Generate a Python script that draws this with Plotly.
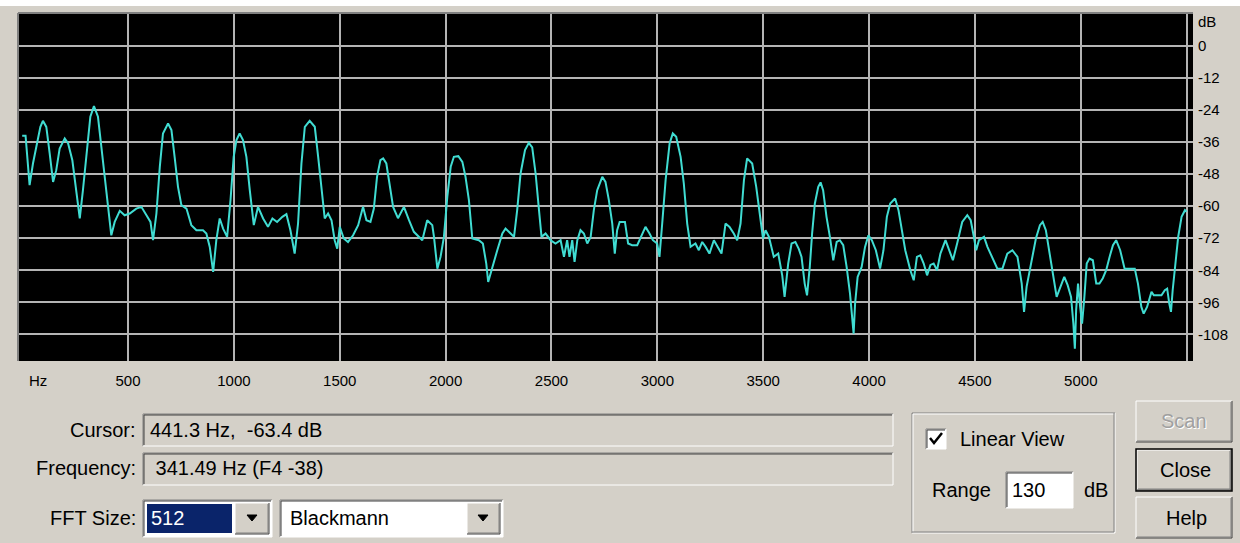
import plotly.graph_objects as go

# ---------------- data ----------------
freq_hz = [
    0, 16, 35, 51, 70, 86, 98, 114, 130, 146, 161, 177, 201, 217, 237, 253, 272, 287, 306, 322,
    339, 358, 374, 390, 405, 421, 437, 461, 484, 508, 539, 563, 587, 606, 618, 634, 650, 665, 689, 705,
    720, 736, 752, 776, 799, 823, 854, 870, 886, 902, 917, 933, 949, 968, 984, 999, 1012, 1027, 1043, 1059,
    1075, 1094, 1114, 1138, 1161, 1182, 1204, 1229, 1248, 1267, 1287, 1303, 1319, 1335, 1358, 1382, 1398, 1414, 1429, 1445,
    1461, 1476, 1488, 1500, 1519, 1539, 1563, 1587, 1610, 1626, 1645, 1661, 1676, 1692, 1705, 1720, 1736, 1752, 1775, 1803,
    1827, 1850, 1890, 1913, 1937, 1945, 1961, 1976, 1992, 2008, 2024, 2039, 2060, 2079, 2094, 2110, 2126, 2157, 2176, 2192,
    2201, 2220, 2244, 2268, 2283, 2307, 2323, 2338, 2354, 2375, 2393, 2409, 2425, 2441, 2453, 2472, 2496, 2519, 2543, 2559,
    2574, 2585, 2598, 2609, 2622, 2637, 2653, 2669, 2685, 2700, 2716, 2740, 2755, 2771, 2787, 2799, 2810, 2822, 2847, 2862,
    2881, 2905, 2921, 2944, 2963, 2979, 2999, 3010, 3023, 3039, 3058, 3073, 3089, 3110, 3125, 3141, 3157, 3180, 3196, 3212,
    3228, 3246, 3267, 3287, 3303, 3322, 3341, 3361, 3377, 3393, 3409, 3424, 3448, 3467, 3487, 3499, 3511, 3527, 3550, 3571,
    3590, 3601, 3618, 3634, 3652, 3668, 3681, 3696, 3707, 3720, 3731, 3744, 3760, 3771, 3783, 3799, 3815, 3831, 3847, 3862,
    3878, 3894, 3910, 3921, 3927, 3934, 3946, 3965, 3981, 3997, 4013, 4032, 4052, 4068, 4084, 4100, 4123, 4139, 4155, 4171,
    4195, 4211, 4226, 4242, 4258, 4274, 4290, 4305, 4321, 4337, 4361, 4380, 4396, 4416, 4440, 4464, 4480, 4495, 4506, 4519,
    4543, 4559, 4582, 4606, 4630, 4653, 4677, 4701, 4721, 4732, 4744, 4764, 4788, 4807, 4820, 4835, 4851, 4867, 4886, 4907,
    4922, 4938, 4954, 4965, 4972, 4978, 4987, 4997, 5006, 5017, 5028, 5041, 5057, 5073, 5088, 5104, 5120, 5136, 5152, 5167,
    5186, 5207, 5231, 5255, 5270, 5286, 5297, 5313, 5334, 5345, 5365, 5381, 5397, 5408, 5418, 5426, 5434, 5444, 5460, 5476,
    5492, 5500,
]
level_db = [
    -33.6, -33.6, -52.1, -44, -36.5, -30.3, -28, -30.3, -40.3, -50.9, -46.5, -38.4, -34.6, -36.5, -42.8, -52.8, -64.6, -54, -39, -26.5,
    -22.5, -26.5, -37.75, -49.6, -61.5, -70.9, -65.9, -61.75, -63.4, -62.75, -60.9, -60.25, -63.4, -65.9, -72.75, -62.75, -45.25, -32.75, -29, -31.5,
    -41.5, -52.75, -59.6, -60.9, -67.1, -69, -69, -70.25, -75.25, -84.6, -72.75, -64.6, -68.4, -71.5, -57.75, -41.5, -35.25, -32.75, -35.25, -41.5,
    -54, -67.1, -60.25, -64.6, -67.75, -64.6, -65.9, -64, -63, -69, -77.75, -66.5, -44, -30.25, -28, -30.25, -41.5, -54, -64.6, -62.75,
    -65.25, -72.75, -75.9, -67.75, -72.1, -73.4, -70.9, -67.1, -60.25, -65.25, -65.9, -60.9, -49, -42.75, -42.1, -44, -52.75, -60.25, -64.5, -60.25,
    -65.25, -69.6, -72.75, -65.25, -67.1, -71.5, -83.4, -79, -71.5, -56.5, -45.25, -41.5, -41.25, -43.4, -49, -57.75, -72.1, -72.75, -74, -81.5,
    -88.4, -82.75, -76.5, -70.25, -68.4, -70.25, -71.5, -61.5, -47.75, -39, -36.25, -38, -47.75, -61.5, -71.5, -70.25, -72.75, -74, -72.75, -79,
    -72.75, -79, -72.75, -80.9, -72.75, -69, -70.25, -74, -71.5, -61.5, -54, -49, -50.9, -57.75, -66.5, -77.75, -69, -65.9, -65.9, -74,
    -74.6, -74.6, -71.5, -67.75, -70.25, -72.75, -74, -79, -66.5, -50.25, -36.5, -32.75, -34, -41.5, -51.5, -66.5, -75.25, -74, -76.5, -73.4,
    -75.25, -77.75, -72.75, -75.25, -77.75, -66.5, -67.75, -70.25, -72.75, -66.5, -50.25, -42.1, -44, -52.75, -64, -72.1, -69, -71.5, -79, -77.75,
    -86, -94, -81.5, -74, -73.4, -76, -79, -89, -93.4, -82.75, -70.25, -59, -52.75, -51.1, -54, -64, -71.5, -80.25, -73.4, -72.75,
    -74.6, -82.75, -92.75, -102.75, -107.75, -96.5, -86.5, -82.75, -75.25, -70.9, -72.75, -76.5, -83.4, -76.5, -64, -59, -57.1, -61.5, -69, -76.5,
    -84, -87.75, -79, -78.4, -81.5, -85.9, -82, -81.5, -84, -77.75, -72.75, -76.5, -80.25, -74, -65.9, -63.4, -65.25, -71.5, -76.5, -72.75,
    -71.5, -75.25, -79, -83.4, -83.4, -77.75, -76.5, -79, -89, -99.6, -90.25, -81.5, -72.1, -67.1, -65.9, -69, -76.5, -84, -94, -89.6,
    -86.5, -89.6, -94, -104, -113.4, -99, -89, -97.75, -104, -94, -81.5, -79.6, -80.25, -89, -89, -87, -84, -79, -74.6, -72.75,
    -76.5, -83.4, -83.4, -83.4, -89, -97.75, -100.25, -97.75, -92.1, -93.4, -93.4, -93.4, -91.5, -90.9, -96.5, -99.6, -91.5, -84, -71.5, -64,
    -61.5, -62.1,
]

x_tick_vals = [500, 1000, 1500, 2000, 2500, 3000, 3500, 4000, 4500, 5000, 5500]
x_tick_text = ["500", "1000", "1500", "2000", "2500", "3000", "3500", "4000", "4500", "5000", ""]
y_tick_vals = [0, -12, -24, -36, -48, -60, -72, -84, -96, -108]
y_tick_text = ["0", "-12", "-24", "-36", "-48", "-60", "-72", "-84", "-96", "-108"]

# ---------------- geometry ----------------
W, H = 1240, 543
ML, MR, MT, MB = 19, 47, 14, 182
PW = W - ML - MR
PH = H - MT - MB


def X(px):
    return (px - ML) / PW


def Y(py):
    return 1 - (py - MT) / PH


BG = "#d4d0c8"
DARK = "#808080"
DARKER = "#404040"
UIFONT = "Liberation Sans, Arial, sans-serif"

shapes = []
annots = []


def line(x0, y0, x1, y1, color, w=1):
    shapes.append(dict(type="line", xref="paper", yref="paper",
                       x0=X(x0), y0=Y(y0), x1=X(x1), y1=Y(y1),
                       line=dict(color=color, width=w), layer="above"))


def rect(x0, y0, x1, y1, fill, lc=None, w=1):
    shapes.append(dict(type="rect", xref="paper", yref="paper",
                       x0=X(x0), y0=Y(y0), x1=X(x1), y1=Y(y1),
                       fillcolor=fill,
                       line=dict(color=lc if lc else fill, width=w if lc else 0),
                       layer="above"))


def sunken(x0, y0, x1, y1, fill):
    rect(x0, y0, x1, y1, fill)
    line(x0, y0, x1, y0, DARK)
    line(x0, y0, x0, y1, DARK)
    line(x0 + 1, y0 + 1, x1 - 1, y0 + 1, DARKER)
    line(x0 + 1, y0 + 1, x0 + 1, y1 - 1, DARKER)
    line(x0, y1, x1, y1, "#ffffff")
    line(x1, y0, x1, y1, "#ffffff")


def raised(x0, y0, x1, y1, default=False):
    rect(x0, y0, x1, y1, BG)
    line(x0, y0, x1, y0, "#ffffff")
    line(x0, y0, x0, y1, "#ffffff")
    line(x0, y1, x1, y1, DARKER)
    line(x1, y0, x1, y1, DARKER)
    line(x0 + 1, y1 - 1, x1 - 1, y1 - 1, DARK)
    line(x1 - 1, y0 + 1, x1 - 1, y1 - 1, DARK)
    if default:
        rect(x0 - 1, y0 - 1, x1 + 1, y1 + 1, "rgba(0,0,0,0)", "#000000", 1.5)


def text(px, py, s, anchor="left", size=20, color="#000000"):
    annots.append(dict(x=X(px), y=Y(py), xref="paper", yref="paper", text=s,
                       showarrow=False, xanchor=anchor, yanchor="middle",
                       font=dict(family=UIFONT, size=size, color=color)))


def tri(cx, cy):
    shapes.append(dict(type="path", xref="paper", yref="paper",
                       path=f"M {X(cx-5)} {Y(cy-3)} L {X(cx+5)} {Y(cy-3)} L {X(cx)} {Y(cy+3)} Z",
                       fillcolor="#000000", line=dict(color="#000000", width=1), layer="above"))


# white page strip at the very top (cut-off web page above the dialog)
rect(0, 0, W, 6, "#ffffff")

# plot frame
line(ML - 1, MT - 1, W - MR, MT - 1, DARK, 2)
line(ML - 1, MT - 1, ML - 1, H - MB, DARK, 2)

# axis annotations
text(38, 381, "Hz", "center", 15)
text(1207, 21, "dB", "center", 15)

# Cursor / Frequency rows
text(138, 430, "Cursor:", "right")
sunken(143, 414, 893, 446, BG)
text(148, 430, "441.3 Hz,  -63.4 dB")
text(138, 468, "Frequency:", "right")
sunken(143, 453, 893, 485, BG)
text(148, 468, " 341.49 Hz (F4 -38)")

# FFT size dropdown
text(138, 518, "FFT Size:", "right")
sunken(143, 500, 272, 537, "#ffffff")
rect(147, 504, 232, 533, "#0a246a")
text(149, 518, "512", "left", 20, "#ffffff")
raised(235, 503, 269, 534)
tri(252, 518)

# window dropdown
sunken(280, 500, 503, 537, "#ffffff")
text(288, 518, "Blackmann")
raised(467, 503, 500, 534)
tri(483, 518)

# group box
line(912, 413, 1115, 413, DARK)
line(912, 413, 912, 533, DARK)
line(913, 414, 1114, 414, "#ffffff")
line(913, 414, 913, 532, "#ffffff")
line(912, 533, 1115, 533, "#ffffff")
line(1115, 413, 1115, 533, "#ffffff")
line(912, 532, 1114, 532, DARK)
line(1114, 413, 1114, 532, DARK)

sunken(926, 429, 946, 449, "#ffffff")
shapes.append(dict(type="path", xref="paper", yref="paper",
                   path=f"M {X(930)} {Y(438)} L {X(934)} {Y(443)} L {X(942)} {Y(433)}",
                   line=dict(color="#000000", width=2.5), layer="above"))
text(958, 439, "Linear View")
text(930, 490, "Range")
sunken(1006, 472, 1073, 508, "#ffffff")
text(1010, 490, "130")
text(1082, 490, "dB")

# buttons
raised(1136, 401, 1232, 442)
text(1185, 422, "Scan", "center", 20, "#ffffff")
text(1184, 421, "Scan", "center", 20, "#a0a0a0")
raised(1137, 450, 1231, 490, default=True)
text(1185, 470, "Close", "center")
raised(1136, 497, 1232, 538)
text(1186, 518, "Help", "center")

fig = go.Figure()
fig.add_trace(go.Scatter(x=freq_hz, y=level_db, mode="lines",
                         line=dict(color="#40dcd2", width=2), hoverinfo="skip"))

fig.update_layout(
    width=W, height=H,
    margin=dict(l=ML, r=MR, t=MT, b=MB, pad=0),
    paper_bgcolor=BG, plot_bgcolor="#000000",
    showlegend=False,
    shapes=shapes, annotations=annots,
    xaxis=dict(range=[-15, 5530], tickmode="array", tickvals=x_tick_vals, ticktext=x_tick_text,
               showgrid=True, gridcolor="#b4b4b4", gridwidth=1.6, zeroline=False,
               ticks="", ticklabelstandoff=9, showline=False, fixedrange=True,
               tickfont=dict(family=UIFONT, size=15, color="#000000")),
    yaxis=dict(range=[-118, 12], side="right", tickmode="array", tickvals=y_tick_vals, ticktext=y_tick_text,
               showgrid=True, gridcolor="#b4b4b4", gridwidth=1.6, zeroline=False,
               ticks="", ticklabelstandoff=4, showline=False, fixedrange=True,
               tickfont=dict(family=UIFONT, size=15, color="#000000")),
)

fig.write_html("out.html", config={"displayModeBar": False},
               post_script="document.body.style.margin='0';document.body.style.overflow='hidden';")
